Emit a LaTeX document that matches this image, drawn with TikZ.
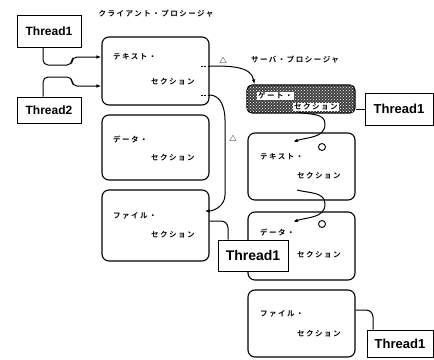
\documentclass[tikz,border=0pt]{standalone}
\usepackage{fontspec}
\usetikzlibrary{patterns,arrows.meta}
\newfontfamily\jp[LetterSpace=20]{Noto Sans CJK JP Bold}
\newfontfamily\tf{Liberation Sans}
\begin{document}
\begin{tikzpicture}[x=1pt,y=1pt,
  sect/.style={draw, line width=1.1pt, rounded corners=7pt, minimum width=107pt, inner sep=0pt},
  thr/.style={draw, line width=1pt, inner sep=0pt, fill=white, font=\tf\bfseries},
  lab/.style={font=\jp\fontsize{7.5}{8}\selectfont, inner sep=0pt, anchor=west},
  ttl/.style={font=\jp\fontsize{7.5}{8}\selectfont, inner sep=0pt},
  conn/.style={line width=1pt},
  arr/.style={conn, -{Latex[length=5pt,width=3.5pt]}},
]
\useasboundingbox (0,0) rectangle (434,-359);
% titles
\node[ttl] (tclient) at (156,-14) {クライアント・プロシージャ};
\node[ttl] (tserver) at (295,-60) {サーバ・プロシージャ};
% client sections
\node[sect, minimum height=68pt] (ctext) at (155.5,-71) {};
\node[sect, minimum height=65pt] (cdata) at (155.5,-147.5) {};
\node[sect, minimum height=71pt] (cfile) at (155.5,-225.5) {};
\node[lab] (ct1) at (113,-57) {テキスト・};
\node[lab] (ct2) at (151,-82) {セクション};
\node[lab] (cd1) at (113,-140) {データ・};
\node[lab] (cd2) at (151,-158) {セクション};
\node[lab] (cf1) at (113,-216) {ファイル・};
\node[lab] (cf2) at (151,-235) {セクション};
% server sections
\node[sect, minimum width=108pt, minimum height=28pt, rounded corners=5pt, fill=black!75,
      postaction={pattern=crosshatch dots, pattern color=white}] (gate) at (301,-99) {};
\node[lab, fill=white, inner sep=1pt] (g1) at (257,-96) {ゲート・};
\node[lab, fill=white, inner sep=1pt] (g2) at (293,-107) {セクション};
\node[sect, minimum height=67pt] (stext) at (301.5,-166.5) {};
\node[sect, minimum height=68pt] (sdata) at (301.5,-246) {};
\node[sect, minimum height=67pt] (sfile) at (301.5,-323.5) {};
\node[lab] (st1) at (260,-157) {テキスト・};
\node[lab] (st2) at (297,-176) {セクション};
\node[lab] (sd1) at (260,-233) {データ・};
\node[lab] (sd2) at (297,-255) {セクション};
\node[lab] (sf1) at (260,-314) {ファイル・};
\node[lab] (sf2) at (297,-334) {セクション};
\draw[line width=0.9pt] (322,-147) circle (3.5pt);
\draw[line width=0.9pt] (322,-224) circle (3.5pt);
% triangles
\node[ttl] (tri1) at (223,-60) {△};
\node[ttl] (tri2) at (233,-138) {△};
% thread boxes
\node[thr, minimum width=64pt, minimum height=32pt, font=\tf\bfseries\fontsize{12}{12}\selectfont] (t1a) at (49,-31) {Thread1};
\node[thr, minimum width=64pt, minimum height=26pt, font=\tf\bfseries\fontsize{12}{12}\selectfont] (t2) at (49,-110) {Thread2};
\node[thr, minimum width=68pt, minimum height=32pt, font=\tf\bfseries\fontsize{13}{13}\selectfont] (t1g) at (399,-109) {Thread1};
\node[thr, minimum width=66pt, minimum height=27pt, font=\tf\bfseries\fontsize{13}{13}\selectfont] (t1b) at (400,-343.5) {Thread1};
% connectors
\draw[arr, rounded corners=5pt] ([xshift=-6pt]t1a.south) |- (72,-65) |- ([yshift=14pt]ctext.west);
\draw[arr, rounded corners=5pt] ([xshift=-6pt]t2.north) |- (72,-77) |- ([yshift=-15pt]ctext.west);
\draw[conn, dashed, dash pattern=on 2pt off 1.5pt] ([xshift=-9pt,yshift=5pt]ctext.east) -- ([yshift=5pt]ctext.east);
\draw[arr] ([yshift=5pt]ctext.east) to[out=0,in=100] ([xshift=8pt]gate.north west);
\draw[conn, dashed, dash pattern=on 2pt off 1.5pt] ([xshift=-9pt,yshift=-24pt]ctext.east) -- ([yshift=-24pt]ctext.east);
\draw[arr] ([yshift=-24pt]ctext.east) to[out=0,in=90] (225,-120) -- (225,-195) to[out=-90,in=0] ([xshift=-5pt,yshift=14.5pt]cfile.east);
\draw[conn] (t1g.west) -- (gate.east |- t1g.west);
\draw[arr] (298,-112) to[out=-15,in=90] (325,-124) to[out=-90,in=20] (293,-142);
\draw[arr] (297,-190) to[out=-15,in=90] (325,-204) to[out=-90,in=20] (293,-222);
\draw[conn, rounded corners=7pt] ([yshift=13.5pt]sfile.east) -| ([xshift=-27pt]t1b.north);
\node[thr, minimum width=70pt, minimum height=31pt, font=\tf\bfseries\fontsize{14}{14}\selectfont] (t1m) at (253,-255.5) {Thread1};
\draw[conn, rounded corners=7pt] ([yshift=4.5pt]cfile.east) -| ([xshift=-25pt]t1m.north);
\end{tikzpicture}
\end{document}
